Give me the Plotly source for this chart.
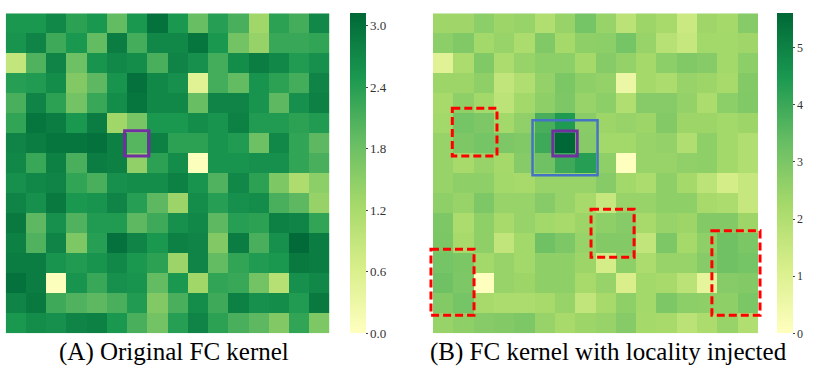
import plotly.graph_objects as go

# (A) original FC kernel, 16x16, row 0 at top
kernel_a = [
    [2.5, 2.5, 2.7, 2.35, 2.5, 1.9, 2.5, 3.0, 2.5, 1.85, 2.4, 2.1, 1.3, 2.35, 2.15, 2.7],
    [2.55, 2.75, 2.2, 2.5, 1.9, 2.85, 2.15, 2.7, 2.7, 2.95, 2.5, 1.75, 1.4, 2.25, 2.25, 2.3],
    [0.9, 2.05, 2.75, 1.8, 2.55, 2.7, 2.65, 2.1, 2.75, 2.6, 2.15, 2.65, 2.85, 2.7, 2.45, 2.6],
    [2.4, 2.45, 2.65, 1.6, 1.95, 2.55, 3.0, 2.7, 2.6, 0.5, 2.15, 1.9, 2.55, 2.35, 2.15, 2.75],
    [2.1, 2.75, 2.35, 1.75, 2.25, 2.65, 2.95, 2.7, 2.7, 1.85, 2.75, 2.75, 2.55, 1.95, 2.6, 2.8],
    [2.3, 2.95, 2.85, 2.5, 2.85, 1.3, 1.7, 2.5, 2.5, 2.65, 2.55, 2.8, 2.45, 2.45, 2.35, 2.45],
    [2.75, 2.85, 2.95, 2.95, 3.0, 2.8, 2.0, 2.8, 2.35, 2.35, 2.55, 2.45, 1.8, 2.7, 2.3, 1.95],
    [2.7, 2.25, 2.8, 2.1, 2.85, 2.8, 1.45, 2.35, 2.65, 0.05, 2.55, 2.55, 2.6, 2.6, 2.3, 2.1],
    [2.6, 2.7, 2.75, 2.3, 2.1, 2.6, 2.65, 2.65, 2.8, 2.55, 2.05, 2.7, 2.35, 1.65, 1.15, 1.5],
    [2.75, 2.6, 2.9, 2.5, 2.55, 2.75, 2.4, 1.95, 1.35, 2.65, 2.4, 2.6, 2.65, 2.1, 1.95, 1.4],
    [2.9, 1.95, 2.6, 2.05, 2.45, 2.45, 1.95, 2.2, 2.6, 2.7, 1.95, 2.4, 2.35, 2.8, 2.75, 2.3],
    [2.8, 2.05, 2.75, 1.65, 2.4, 3.0, 2.75, 2.5, 2.8, 2.75, 1.6, 2.85, 2.1, 2.6, 3.1, 2.85],
    [2.85, 2.85, 2.55, 2.45, 2.55, 2.7, 2.5, 2.35, 1.35, 2.75, 1.9, 2.3, 2.45, 2.5, 2.9, 2.85],
    [3.0, 2.85, 0.05, 2.55, 2.25, 2.6, 2.55, 1.9, 2.5, 1.3, 2.3, 2.25, 1.75, 1.05, 2.6, 2.7],
    [2.75, 2.9, 2.2, 2.05, 1.95, 2.1, 2.45, 1.6, 2.1, 2.65, 2.2, 2.8, 2.6, 2.65, 2.45, 2.9],
    [2.5, 2.65, 2.6, 2.75, 2.8, 2.5, 2.1, 1.75, 2.4, 2.75, 2.35, 2.1, 1.95, 1.6, 2.3, 1.65],
]

# (B) FC kernel with locality injected
kernel_b = [
    [2.35, 2.35, 2.7, 2.4, 2.5, 2.0, 2.5, 3.1, 2.5, 1.8, 2.4, 2.2, 1.45, 2.35, 2.25, 2.8],
    [2.7, 2.9, 2.3, 2.5, 2.1, 2.9, 2.25, 2.65, 2.7, 3.1, 2.5, 1.85, 1.55, 2.3, 2.3, 2.35],
    [0.9, 2.1, 2.9, 2.1, 2.5, 2.7, 2.7, 2.25, 2.8, 2.55, 2.25, 2.7, 2.9, 2.8, 2.3, 2.7],
    [2.4, 2.4, 2.65, 1.65, 2.0, 2.55, 3.0, 2.65, 2.55, 0.55, 2.25, 2.1, 2.5, 2.4, 2.2, 2.85],
    [2.2, 2.65, 2.3, 1.75, 2.3, 2.65, 2.95, 2.5, 2.7, 2.0, 2.8, 2.8, 2.55, 2.1, 2.7, 2.9],
    [2.3, 3.1, 2.95, 2.3, 2.6, 3.8, 4.4, 2.75, 2.4, 2.5, 2.4, 2.85, 2.4, 2.4, 2.3, 2.4],
    [2.5, 2.95, 3.1, 2.95, 2.9, 3.95, 5.6, 2.8, 2.3, 2.3, 2.5, 2.55, 2.0, 2.65, 2.3, 2.0],
    [2.5, 2.2, 2.5, 2.25, 2.8, 3.2, 3.95, 4.3, 2.65, 0.02, 2.5, 2.5, 2.6, 2.65, 2.3, 2.0],
    [2.5, 2.65, 2.65, 2.3, 2.2, 2.5, 2.5, 2.5, 2.8, 2.3, 2.1, 2.65, 2.25, 1.75, 1.2, 1.55],
    [2.65, 2.5, 2.95, 2.5, 2.5, 2.8, 2.5, 2.2, 1.55, 2.5, 2.5, 2.65, 2.65, 2.2, 2.1, 1.55],
    [2.95, 2.1, 2.65, 2.2, 2.5, 2.3, 2.2, 2.4, 2.65, 2.8, 2.2, 2.5, 2.4, 2.85, 2.85, 2.4],
    [3.0, 2.2, 2.65, 1.65, 2.3, 3.2, 2.95, 2.5, 2.85, 2.85, 1.65, 2.95, 2.25, 2.65, 3.2, 3.0],
    [3.1, 3.0, 2.3, 2.5, 2.3, 2.65, 2.65, 2.4, 1.2, 2.65, 2.1, 2.5, 2.5, 2.8, 3.2, 3.1],
    [3.2, 2.95, 0.02, 2.5, 2.4, 2.65, 2.65, 2.2, 2.5, 1.1, 2.3, 2.2, 1.8, 0.75, 2.8, 2.85],
    [2.85, 3.1, 2.2, 2.1, 2.1, 2.2, 2.5, 1.65, 2.2, 2.65, 2.3, 2.95, 2.7, 2.65, 2.65, 3.0],
    [2.5, 2.65, 2.8, 2.85, 2.95, 2.5, 2.2, 2.4, 2.5, 2.8, 2.25, 2.2, 1.8, 2.1, 2.5, 2.0],
]

captions = ["(A) Original FC kernel", "(B) FC kernel with locality injected"]
ticks_a = [0.0, 0.6, 1.2, 1.8, 2.4, 3.0]
ticks_b = [0, 1, 2, 3, 4, 5]

# upper half of RdYlGn
scale = [[0.0, "#ffffbf"], [0.2, "#d9ef8b"], [0.4, "#a6d96a"],
         [0.6, "#66bd63"], [0.8, "#1a9850"], [1.0, "#006837"]]

W, H = 831, 372
serif = "Liberation Serif"


def cbar(x_px, vals, text, size):
    return dict(x=x_px / W, xanchor="left", xpad=0, ypad=0, thickness=16,
                lenmode="pixels", len=320, y=(372 - 173.3) / H, yanchor="middle",
                outlinewidth=0, tickvals=vals, ticktext=text,
                ticks="outside", ticklen=2, tickcolor="#444",
                tickfont=dict(family=serif, size=size, color="#333"))


fig = go.Figure()
fig.add_trace(go.Heatmap(
    z=kernel_a, colorscale=scale, zmin=0, zmax=3.12, xaxis="x", yaxis="y",
    colorbar=cbar(350, ticks_a, [f"{t:.1f}" for t in ticks_a], 13),
))
fig.add_trace(go.Heatmap(
    z=kernel_b, colorscale=scale, zmin=0, zmax=5.6, xaxis="x2", yaxis="y2",
    colorbar=cbar(777, ticks_b, [str(t) for t in ticks_b], 12),
))

ydom = [(372 - 333.3) / H, (372 - 13.3) / H]
axis_off = dict(showgrid=False, zeroline=False, showticklabels=False, ticks="", showline=False)
fig.update_layout(
    width=W, height=H, margin=dict(l=0, r=0, t=0, b=0),
    paper_bgcolor="white", plot_bgcolor="white",
    font=dict(family=serif),
    xaxis=dict(domain=[5.7 / W, 329.3 / W], range=[-0.5, 15.5], **axis_off),
    yaxis=dict(domain=ydom, range=[15.5, -0.5], **axis_off),
    xaxis2=dict(domain=[(433 - 0.2 * 20.3) / W, (758 + 0.2 * 20.3) / W], range=[-0.7, 15.7],
                anchor="y2", **axis_off),
    yaxis2=dict(domain=ydom, range=[15.5, -0.5], anchor="x2", **axis_off),
)

# purple boxes (target cell)
purple = dict(color="#7030a0", width=3)
fig.add_shape(type="rect", xref="x", yref="y", x0=5.38, x1=6.58, y0=5.37, y1=6.64, line=purple)
fig.add_shape(type="rect", xref="x2", yref="y2", x0=5.4, x1=6.6, y0=5.38, y1=6.63, line=purple)
# blue neighbourhood box
fig.add_shape(type="rect", xref="x2", yref="y2", x0=4.4, x1=7.6, y0=4.85, y1=7.6,
              line=dict(color="#4472c4", width=2.5))
# red dashed boxes
red = dict(color="#ff0000", width=3, dash="8px,4px")
for x0, x1, y0, y1 in [(0.45, 2.65, 4.25, 6.63), (7.28, 9.4, 9.3, 11.7),
                       (-0.6, 1.52, 11.3, 14.6), (13.23, 15.6, 10.37, 14.6)]:
    fig.add_shape(type="rect", xref="x2", yref="y2", x0=x0, x1=x1, y0=y0, y1=y1, line=red)

for cx, text in zip([174, 608], captions):
    fig.add_annotation(x=cx / W, y=(372 - 352) / H, xref="paper", yref="paper",
                       text=text, showarrow=False, xanchor="center", yanchor="middle",
                       font=dict(family=serif, size=25, color="black"))

# drop the default body margin so the figure sits at the page corner
fig.write_html("out.html", config={"displayModeBar": False},
               post_script="document.body.style.margin='0';")
